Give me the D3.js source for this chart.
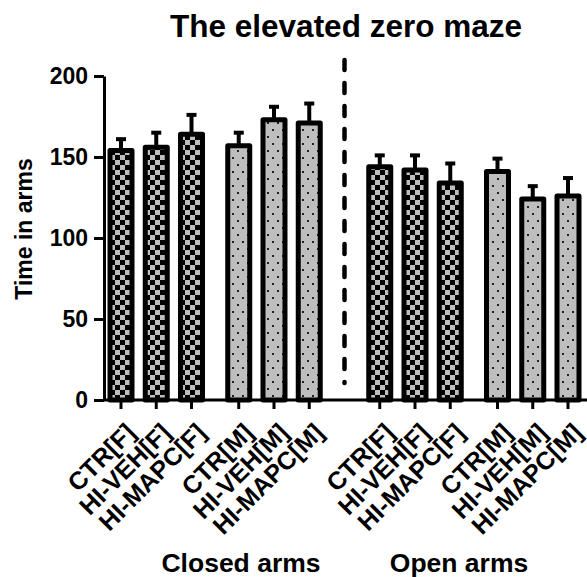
<!DOCTYPE html>
<html lang="en">
  <head>
    <meta charset="utf-8" />
    <title>The elevated zero maze</title>
    <script src="https://d3js.org/d3.v7.min.js"></script>
    <style>
      body { margin: 0; background: #fff; }
      text { font-family: "Liberation Sans", Arial, sans-serif; font-weight: bold; fill: #000; }
    </style>
  </head>
  <body>
    <script>
      // chart data
      const arms = ["Closed arms", "Open arms"];
      const groups = ["CTR[F]", "HI-VEH[F]", "HI-MAPC[F]", "CTR[M]", "HI-VEH[M]", "HI-MAPC[M]"];
      const closedMeans = [154, 156, 164, 157, 173, 171];
      const closedSem = [7, 9, 12, 8, 8, 12];
      const openMeans = [144, 142, 134, 141, 124, 126];
      const openSem = [7, 9, 12, 8, 8, 11];
      const yTicks = [0, 50, 100, 150, 200];

      // layout
      const WIDTH = 587, HEIGHT = 577;
      const SEX_GAP = 0.34;   // extra slot space between F and M groups
      const ARM_STEP = 7.34;  // slot offset of the open arms block
      const BAR_W = 22, STROKE = 5;
      const GREY = "#bebebe";

      const rows = arms.flatMap((arm, a) =>
        groups.map((g, i) => ({
          arm: arm,
          group: g,
          mean: a ? openMeans[i] : closedMeans[i],
          sem: a ? openSem[i] : closedSem[i],
          slot: a * ARM_STEP + i + (i >= 3 ? SEX_GAP : 0),
          female: g.indexOf("[F]") >= 0,
        }))
      );

      const y = d3.scaleLinear().domain([0, 200]).range([400, 76]);
      const x = d3.scaleLinear().domain([0, ARM_STEP + 5 + SEX_GAP]).range([121, 568]);

      const svg = d3.select("body").append("svg")
        .attr("width", WIDTH).attr("height", HEIGHT);

      // fill patterns
      const defs = svg.append("defs");
      const checker = defs.append("pattern").attr("id", "checker")
        .attr("patternUnits", "userSpaceOnUse").attr("width", 10).attr("height", 10);
      checker.append("rect").attr("width", 10).attr("height", 10).attr("fill", GREY);
      checker.append("rect").attr("width", 5).attr("height", 5).attr("fill", "#000");
      checker.append("rect").attr("x", 5).attr("y", 5).attr("width", 5).attr("height", 5).attr("fill", "#000");

      const dots = defs.append("pattern").attr("id", "dots")
        .attr("patternUnits", "userSpaceOnUse").attr("width", 10).attr("height", 14);
      dots.append("rect").attr("width", 10).attr("height", 14).attr("fill", GREY);
      dots.append("rect").attr("x", 2).attr("y", 3).attr("width", 2).attr("height", 2).attr("fill", "#222");
      dots.append("rect").attr("x", 7).attr("y", 10).attr("width", 2).attr("height", 2).attr("fill", "#222");

      // title
      svg.append("text").attr("x", 346).attr("y", 37)
        .attr("text-anchor", "middle").style("font-size", "31.5px")
        .text("The elevated zero maze");

      // y axis
      const yAxis = svg.append("g").attr("transform", "translate(104,0)")
        .call(d3.axisLeft(y).tickValues(yTicks).tickSize(10).tickSizeOuter(0).tickPadding(6));
      yAxis.select(".domain").attr("stroke-width", 3);
      yAxis.selectAll(".tick line").attr("stroke-width", 3);
      yAxis.selectAll(".tick text").style("font-size", "23px")
        .attr("font-family", null).attr("font-size", null);

      svg.append("text")
        .attr("transform", "translate(32,229) rotate(-90)")
        .attr("text-anchor", "middle").style("font-size", "23px")
        .text("Time in arms");

      // bars
      const bar = svg.append("g").selectAll("g").data(rows).join("g");

      bar.append("line")
        .attr("x1", (d) => x(d.slot)).attr("x2", (d) => x(d.slot))
        .attr("y1", (d) => y(d.mean)).attr("y2", (d) => y(d.mean + d.sem))
        .attr("stroke", "#000").attr("stroke-width", STROKE - 1);
      bar.append("line")
        .attr("x1", (d) => x(d.slot) - 5).attr("x2", (d) => x(d.slot) + 5)
        .attr("y1", (d) => y(d.mean + d.sem)).attr("y2", (d) => y(d.mean + d.sem))
        .attr("stroke", "#000").attr("stroke-width", STROKE - 1);

      bar.append("rect")
        .attr("x", (d) => x(d.slot) - BAR_W / 2)
        .attr("y", (d) => y(d.mean))
        .attr("width", BAR_W)
        .attr("height", (d) => y(0) - y(d.mean))
        .attr("fill", (d) => (d.female ? "url(#checker)" : "url(#dots)"))
        .attr("stroke", "#000").attr("stroke-width", STROKE)
        .attr("stroke-linejoin", "round");

      // x axis line and ticks
      svg.append("line").attr("x1", 103).attr("x2", WIDTH)
        .attr("y1", y(0)).attr("y2", y(0))
        .attr("stroke", "#000").attr("stroke-width", 3);
      bar.append("line")
        .attr("x1", (d) => x(d.slot)).attr("x2", (d) => x(d.slot))
        .attr("y1", y(0)).attr("y2", y(0) + 9)
        .attr("stroke", "#000").attr("stroke-width", 3);

      bar.append("text")
        .attr("transform", (d) => "translate(" + (x(d.slot) + 16) + "," + (y(0) + 34) + ") rotate(-45)")
        .attr("text-anchor", "end").style("font-size", "25px")
        .text((d) => d.group);

      // divider between closed and open arms
      const divX = x(ARM_STEP - 1);
      svg.append("line")
        .attr("x1", divX).attr("x2", divX)
        .attr("y1", y(200) - 16).attr("y2", y(0) - 17)
        .attr("stroke", "#000").attr("stroke-width", 4.5)
        .attr("stroke-linecap", "round").attr("stroke-dasharray", "10 13");

      // arm labels
      const armX = [241, 459];
      svg.selectAll(".arm").data(arms).join("text")
        .attr("class", "arm")
        .attr("x", (d, i) => armX[i]).attr("y", 572)
        .attr("text-anchor", "middle").style("font-size", "26.5px")
        .text((d) => d);
    </script>
  </body>
</html>
